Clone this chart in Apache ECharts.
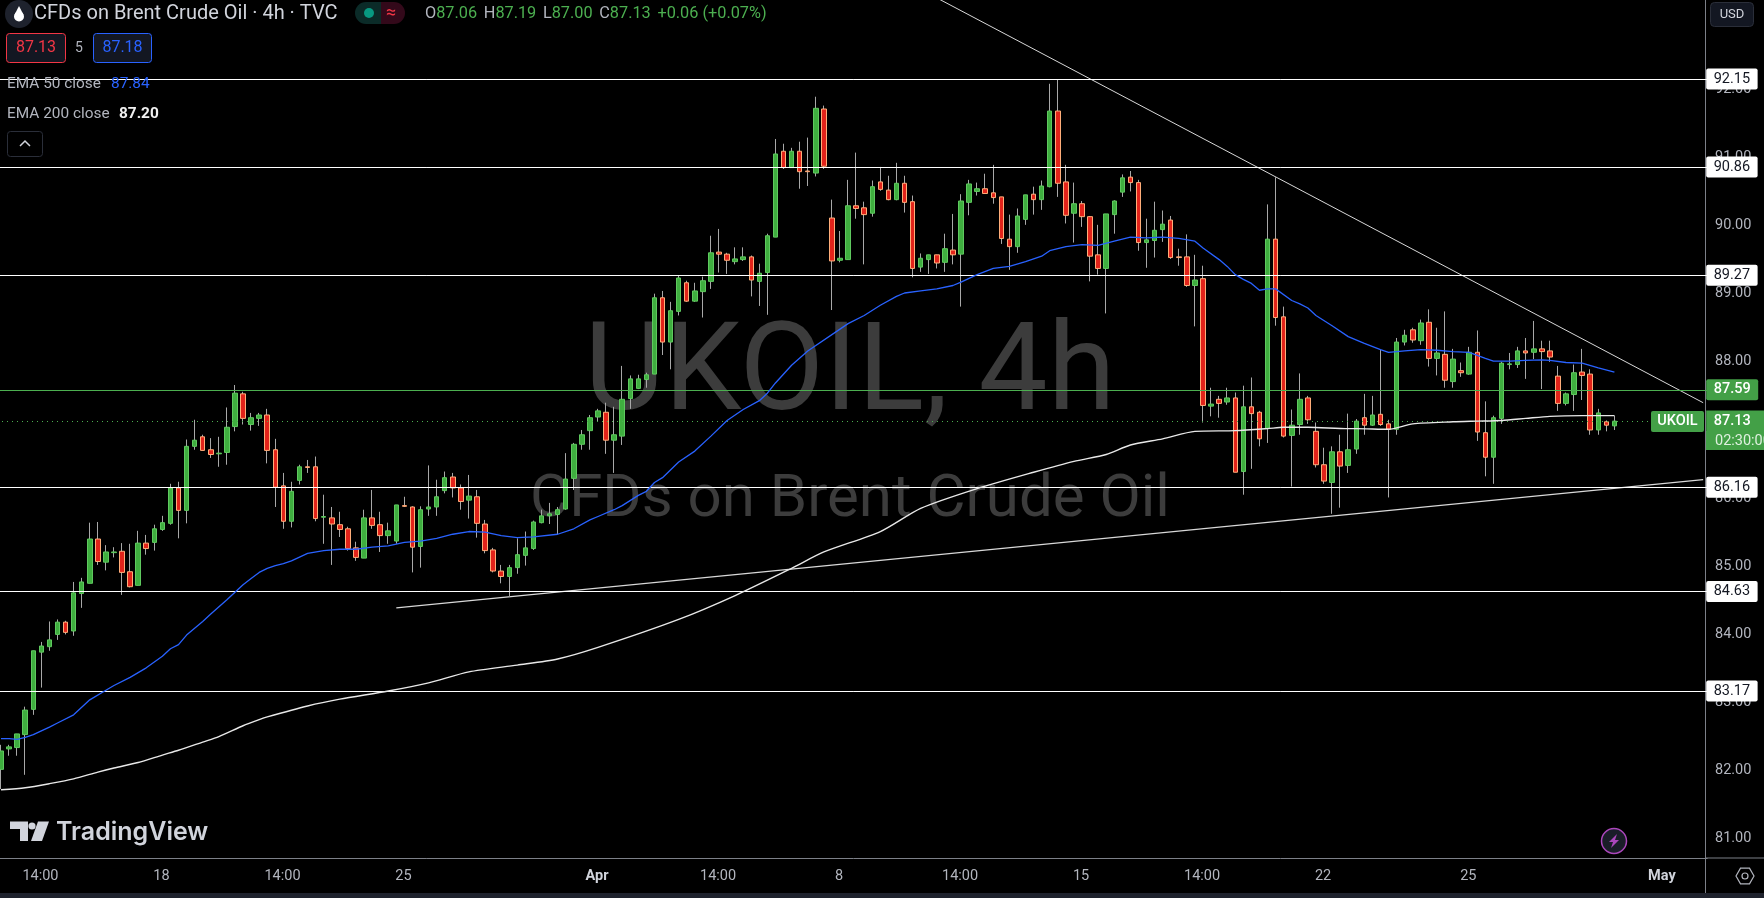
<!DOCTYPE html>
<html><head><meta charset="utf-8">
<style>html,body{margin:0;padding:0;background:#000;overflow:hidden}#c{width:1764px;height:898px}</style>
<script src="https://cdn.jsdelivr.net/npm/echarts@6/dist/echarts.min.js"></script>
</head><body><div id="c"></div>
<script>
const opens=[82.02,82.32,82.34,82.53,82.90,83.74,83.82,84.00,84.18,84.05,84.60,84.75,85.40,85.06,85.20,85.22,84.92,84.72,85.34,85.35,85.54,85.63,86.15,85.82,86.76,86.90,86.71,86.65,86.67,87.05,87.53,87.08,87.17,87.22,
86.71,86.18,85.66,86.26,86.46,86.46,85.72,85.71,85.61,85.55,85.27,85.12,85.71,85.61,85.45,85.37,85.89,85.87,85.29,85.84,85.87,86.11,86.31,86.15,85.97,86.02,85.62,85.24,84.93,84.85,84.98,85.16,85.26,
85.64,85.74,85.76,85.84,86.29,86.79,86.99,87.19,87.26,86.85,86.91,87.46,87.61,87.74,87.82,88.94,88.29,88.74,89.16,88.89,89.03,89.18,89.61,89.58,89.47,89.50,89.54,89.18,89.31,89.83,91.09,90.85,91.09,90.80,
90.77,91.71,90.11,89.49,89.50,90.29,90.26,90.18,90.64,90.52,90.38,90.62,90.35,89.39,89.50,89.57,89.46,89.64,89.58,90.34,90.50,90.54,90.48,90.42,89.80,89.69,90.09,90.46,90.38,90.57,91.68,90.64,90.18,
90.32,90.13,89.57,89.37,90.16,90.49,90.71,90.63,89.75,89.78,89.94,90.08,89.54,89.54,89.12,89.22,87.35,87.45,87.41,87.47,86.39,87.34,87.26,87.02,89.80,88.66,86.92,87.08,87.47,86.98,86.49,86.23,86.68,86.48,
86.72,87.18,87.07,87.23,87.09,87.01,88.29,88.47,88.31,88.58,88.05,88.11,87.71,87.87,87.82,88.14,86.96,86.60,87.17,87.96,87.96,88.16,88.14,88.19,88.16,87.79,87.39,87.52,87.85,87.82,87.00,87.12,87.06];
const closes=[82.29,82.35,82.54,82.89,83.76,83.83,83.92,84.18,84.03,84.61,84.77,85.40,85.07,85.21,85.21,84.91,84.70,85.34,85.26,85.55,85.64,86.15,85.82,86.76,86.85,86.70,86.64,86.66,87.04,87.54,87.17,87.18,87.22,86.70,
86.16,85.66,86.10,86.46,86.45,85.70,85.73,85.62,85.54,85.26,85.13,85.71,85.60,85.45,85.52,85.90,85.88,85.28,85.83,85.87,86.02,86.30,86.15,85.95,86.03,85.63,85.23,84.93,84.85,84.98,85.17,85.27,85.65,
85.74,85.77,85.83,86.28,86.79,86.93,87.18,87.28,86.85,86.93,87.45,87.75,87.75,87.81,88.94,88.29,88.75,89.23,88.89,89.04,89.19,89.60,89.58,89.49,89.51,89.54,89.20,89.30,89.85,91.05,90.85,91.09,90.79,90.79,
91.72,90.87,89.48,89.52,90.29,90.25,90.16,90.57,90.53,90.38,90.62,90.34,89.37,89.52,89.57,89.45,89.66,89.57,90.36,90.61,90.54,90.47,90.41,89.81,89.69,90.14,90.45,90.38,90.58,91.68,90.62,90.15,90.32,
90.13,89.55,89.37,90.17,90.36,90.70,90.63,89.75,89.79,89.93,90.02,89.53,89.53,89.12,89.20,87.36,87.38,87.39,87.47,86.38,87.34,87.24,86.87,89.80,88.65,86.91,87.07,87.45,87.15,86.49,86.25,86.68,86.47,86.71,
87.13,87.07,87.22,87.08,87.01,88.29,88.39,88.32,88.57,88.05,88.13,87.73,88.04,87.84,88.14,86.97,86.60,87.18,87.98,87.97,88.16,88.13,88.19,88.15,88.07,87.39,87.53,87.84,87.80,87.00,87.25,87.07,87.13];
const lows=[81.73,82.22,82.22,81.94,82.82,83.22,83.76,83.92,84.00,83.98,84.39,84.75,85.02,84.94,85.13,84.58,84.69,84.72,85.17,85.23,85.52,85.61,85.41,85.63,86.71,86.70,86.59,86.46,86.49,86.98,87.08,86.99,87.06,86.51,
85.87,85.55,85.57,86.20,86.37,85.66,85.33,85.02,85.43,85.23,85.08,85.12,85.55,85.21,85.33,85.33,85.87,84.91,84.98,85.74,85.74,86.07,86.01,85.83,85.70,85.42,85.19,84.91,84.75,84.55,84.89,85.01,85.24,
85.63,85.62,85.47,85.83,86.12,86.71,86.71,87.12,86.65,86.37,86.78,87.31,87.60,87.62,87.82,88.10,87.89,88.68,88.88,88.88,88.65,89.07,89.31,89.29,89.43,89.48,88.96,88.82,88.69,89.83,90.83,90.85,90.54,90.58,
90.72,90.83,88.76,89.46,89.50,90.10,89.43,90.13,90.51,90.37,90.37,90.19,89.24,89.32,89.29,89.37,89.32,89.43,88.81,90.15,90.44,90.47,90.32,89.73,89.35,89.60,90.01,90.16,90.23,90.56,90.42,90.03,89.75,
89.98,89.18,89.28,88.71,89.88,90.42,90.50,89.63,89.38,89.53,89.76,89.51,89.41,89.10,88.52,87.11,87.20,87.18,87.37,86.38,86.05,86.43,86.76,86.81,88.53,86.89,86.17,86.93,87.09,86.45,86.21,85.77,85.86,86.37,
86.65,86.93,87.06,87.06,86.01,86.93,88.24,88.28,88.25,87.93,87.80,87.62,87.62,87.78,87.81,86.84,86.32,86.21,87.09,87.89,87.91,87.75,88.04,87.60,88.00,87.28,87.36,87.28,87.44,86.93,86.93,86.98,87.00];
const highs=[82.38,82.38,82.54,82.94,83.76,83.89,84.19,84.22,84.20,84.77,84.83,85.64,85.65,85.31,85.28,85.34,85.33,85.52,85.46,85.61,85.74,86.21,86.24,86.86,87.15,86.93,86.88,86.90,87.33,87.66,87.56,87.25,87.25,87.31,
86.87,86.37,86.24,86.49,86.56,86.61,86.05,85.87,85.80,85.58,85.36,85.83,86.12,85.80,85.64,85.90,86.02,85.88,85.88,86.48,86.27,86.39,86.37,86.20,86.34,86.12,85.68,85.27,85.02,85.02,85.41,85.51,85.67,
85.83,85.93,85.87,86.66,86.81,87.00,87.22,87.31,87.40,87.34,87.94,87.80,87.81,87.84,89.00,89.04,88.88,89.27,89.19,89.16,89.25,89.85,89.95,89.60,89.68,89.68,89.56,89.44,89.88,91.27,91.20,91.14,91.23,91.29,
91.89,91.76,90.38,89.92,90.67,91.07,90.35,90.66,90.86,90.73,90.92,90.73,90.44,89.59,89.57,89.57,89.88,90.17,90.46,90.67,90.63,90.76,90.89,90.42,90.16,90.25,90.45,90.57,90.66,92.08,92.14,90.89,90.63,
90.36,90.14,90.01,90.17,90.37,90.75,90.80,90.67,90.10,90.35,90.22,90.14,89.66,89.87,89.57,89.41,87.62,87.50,87.62,87.55,87.65,87.77,87.28,90.31,90.71,88.81,87.30,87.83,87.50,87.11,86.74,86.76,86.93,87.24,
87.16,87.53,87.50,88.18,87.15,88.35,88.47,88.50,88.62,88.77,88.50,88.74,88.19,87.99,88.22,88.46,87.42,87.21,88.00,88.13,88.22,88.35,88.60,88.31,88.31,87.94,87.55,87.96,88.19,87.89,87.31,87.14,87.21];

const ema50=[[0,82.47],[1,82.47],[2,82.46],[3,82.49],[4,82.53],[6,82.64],[7,82.70],[9,82.82],[11,83.04],[13,83.18],[14,83.25],[16,83.37],[18,83.51],[20,83.68],[21,83.79],[22,83.85],[23,83.99],[25,84.19],[26,84.30],[28,84.51],[30,84.73],[31,84.82],[32,84.91],[33,84.97],[34,85.01],[35,85.04],[36,85.08],[38,85.19],[40,85.23],[42,85.25],[44,85.25],[46,85.28],[48,85.30],[50,85.35],[52,85.37],[54,85.41],[56,85.47],[58,85.51],[60,85.50],[62,85.45],[64,85.42],[66,85.43],[69,85.47],[71,85.55],[73,85.68],[74,85.73],[76,85.83],[77,85.89],[79,86.04],[80,86.10],[81,86.23],[82,86.30],[84,86.53],[86,86.69],[88,86.91],[90,87.14],[92,87.30],[94,87.43],[95,87.54],[96,87.69],[98,87.95],[100,88.16],[104,88.48],[105,88.56],[107,88.68],[109,88.83],[111,88.96],[112,89.01],[114,89.04],[116,89.07],[118,89.12],[119,89.17],[121,89.28],[123,89.37],[125,89.40],[127,89.47],[129,89.55],[130,89.63],[132,89.69],[134,89.72],[136,89.71],[138,89.77],[140,89.83],[142,89.82],[144,89.83],[146,89.81],[148,89.77],[149,89.67],[151,89.50],[152,89.40],[153,89.28],[154,89.21],[155,89.15],[156,89.05],[157,89.07],[158,89.07],[160,88.90],[161,88.85],[162,88.79],[163,88.68],[165,88.53],[167,88.37],[169,88.27],[171,88.18],[172,88.14],[174,88.16],[176,88.18],[178,88.17],[180,88.15],[182,88.14],[184,88.05],[185,88.01],[187,88.01],[189,88.02],[191,88.03],[192,88.02],[194,87.99],[196,87.98],[198,87.91],[200,87.85]];
const ema200=[[0,81.72],[3,81.75],[6,81.81],[9,81.88],[12,81.98],[14,82.04],[17,82.12],[20,82.23],[22,82.30],[25,82.42],[27,82.50],[30,82.66],[32,82.75],[33,82.79],[38,82.95],[42,83.05],[48,83.17],[53,83.29],[58,83.45],[64,83.55],[69,83.64],[74,83.81],[84,84.22],[91,84.57],[98,84.97],[102,85.21],[109,85.51],[114,85.85],[121,86.14],[128,86.38],[133,86.54],[137,86.64],[140,86.78],[144,86.87],[148,86.98],[153,86.99],[157,87.02],[159,87.04],[162,87.04],[167,87.02],[168,87.02],[172,87.01],[175,87.09],[180,87.12],[183,87.13],[186,87.14],[189,87.17],[192,87.20],[196,87.21],[200,87.21]];
const trendDown=[[116,93.34],[211,87.40]];
const trendUp=[[49,84.39],[211,86.27]];
const whiteLevels=[92.15,90.86,89.27,86.16,84.63,83.17];
const greenLevel=87.59;
const lastPrice=87.13;
const slotCount=212;
const tickSlots=[5,20,35,50,74,89,104,119,134,149,164,182,206];
const tickLabels=['14:00','18','14:00','25','Apr','14:00','8','14:00','15','14:00','22','25','May'];
const boldTicks=['Apr','May'];

const categories=Array.from({length:slotCount},(_,i)=>{const k=tickSlots.indexOf(i);return k<0?'':tickLabels[k];});
const wickData=opens.map((o,i)=>[o,closes[i],lows[i],highs[i]]);
const bodyData=opens.map((o,i)=>{const t=Math.max(o,closes[i]),b=Math.min(o,closes[i]);return [o,closes[i],b,t];});

const FONT='Roboto, sans-serif';
const GREY='#b2b5be', LINE='#7d8088';
const chart=echarts.init(document.getElementById('c'),null,{renderer:'canvas',width:1764,height:898});

function txt(text,x,y,size,fill,extra){return Object.assign({type:'text',z:90,style:Object.assign({text,x,y,fill,font:size+'px '+FONT,verticalAlign:'middle',align:'left'},extra||{})});}
function box(x,y,w,h,fill,stroke,r){return {type:'rect',z:89,shape:{x,y,width:w,height:h,r:r||3},style:{fill,stroke:stroke||null,lineWidth:1}};}

const graphic=[
 {type:'text',z:0,style:{text:'UKOIL, 4h',x:850,y:440,fill:'#3c3c3c',font:'123px '+FONT,align:'center',verticalAlign:'bottom'}},
 {type:'text',z:0,style:{text:'CFDs on Brent Crude Oil',x:850,y:531,fill:'#3c3c3c',font:'60px '+FONT,align:'center',verticalAlign:'bottom'}},
 {type:'line',z:5,shape:{x1:1705,y1:858,x2:1764,y2:858},style:{stroke:LINE,lineWidth:1}},
 {type:'rect',z:5,shape:{x:0,y:893,width:1764,height:5},style:{fill:'#1e222d'}},
 {type:'circle',z:89,shape:{cx:19,cy:14,r:14},style:{fill:'#1e222d'}},
 {type:'polygon',z:90,shape:{points:[[19,6],[14.6,14.5],[23.4,14.5]]},style:{fill:'#fff'}},
 {type:'circle',z:90,shape:{cx:19,cy:16.5,r:5},style:{fill:'#fff'}},
 txt('CFDs on Brent Crude Oil · 4h · TVC',34,14,20,'#d1d4dc'),
 {type:'rect',z:89,shape:{x:355,y:2,width:26,height:22,r:[11,0,0,11]},style:{fill:'#0b2b28'}},
 {type:'rect',z:89,shape:{x:381,y:2,width:24,height:22,r:[0,11,11,0]},style:{fill:'#33091a'}},
 {type:'circle',z:90,shape:{cx:369,cy:13,r:5},style:{fill:'#089981'}},
 txt('≈',386,13,18,'#f23645'),
 {type:'text',z:90,style:{x:425,y:14,verticalAlign:'middle',align:'left',
   text:'{g|O}{v|87.06}  {g|H}{v|87.19}  {g|L}{v|87.00}  {g|C}{v|87.13}  {v|+0.06 (+0.07%)}',
   rich:{g:{fill:GREY,font:'16.3px '+FONT},v:{fill:'#4caf50',font:'16.3px '+FONT}}}},
 box(6.5,33.5,59,29,'#131722','#f23645'),
 txt('87.13',36,48,16,'#f23645',{align:'center'}),
 txt('5',79,48,14,GREY,{align:'center'}),
 box(93.5,33.5,58,29,'#131722','#2962ff'),
 txt('87.18',122.5,48,16,'#2962ff',{align:'center'}),
 txt('EMA 50 close',7,84,15.4,GREY),
 txt('87.84',111,84,15.4,'#2962ff'),
 txt('EMA 200 close',7,114,15.4,GREY),
 txt('87.20',119,114,15.4,'#f0f0f0',{font:'bold 15.4px '+FONT}),
 box(7.5,131.5,35,25,'#000','#2a2e39'),
 {type:'polyline',z:90,shape:{points:[[20,146],[25,141],[30,146]]},style:{stroke:'#d1d4dc',lineWidth:1.5,fill:null}},
 {type:'polygon',z:90,shape:{points:[[10,821.5],[28,821.5],[28,841],[20,841],[20,829],[10,829]]},style:{fill:'#d1d4dc'}},
 {type:'circle',z:90,shape:{cx:32,cy:826,r:3.6},style:{fill:'#d1d4dc'}},
 {type:'polygon',z:90,shape:{points:[[38,821.5],[49,821.5],[42,841],[31,841]]},style:{fill:'#d1d4dc'}},
 txt('TradingView',56,832,25,'#d1d4dc',{font:'600 25px Inter, '+FONT}),
 {type:'circle',z:89,shape:{cx:1614,cy:841,r:12.5},style:{fill:'#1a1d28',stroke:'#ab47bc',lineWidth:1.5}},
 {type:'polygon',z:90,shape:{points:[[1617,834],[1609,842],[1613,842],[1611,848],[1619,840],[1615,840]]},style:{fill:'#ab47bc'}},
 {type:'polygon',z:90,shape:{points:[[1736,876],[1740.5,868.2],[1749.5,868.2],[1754,876],[1749.5,883.8],[1740.5,883.8]]},style:{fill:null,stroke:GREY,lineWidth:1.2}},
 {type:'circle',z:90,shape:{cx:1745,cy:876,r:3},style:{fill:null,stroke:GREY,lineWidth:1.2}},
 box(1710.5,2.5,43,24,'#131722','#2a2e39',4),
 txt('USD',1732,15,13,'#d1d4dc',{align:'center'}),
 {type:'rect',z:95,shape:{x:1651,y:411,width:53,height:21,r:2},style:{fill:'#43a047'}},
 {type:'text',z:96,style:{text:'UKOIL',x:1677.5,y:421.5,fill:'#fff',font:'500 14.5px '+FONT,verticalAlign:'middle',align:'center'}},
 {type:'rect',z:95,shape:{x:1706,y:431,width:58,height:19},style:{fill:'#43a047'}},
 {type:'text',z:96,style:{text:'02:30:00',x:1715,y:441,fill:'#dff0df',font:'14.5px '+FONT,verticalAlign:'middle',align:'left'}}
];

const levelLines=whiteLevels.map(v=>({yAxis:v,lineStyle:{color:'#ffffff',width:1,type:'solid'},
  label:{show:true,position:'end',distance:-1,formatter:v.toFixed(2),color:'#131722',backgroundColor:'#ffffff',padding:[3,7.5],borderRadius:2,fontSize:14.5,fontFamily:FONT,lineHeight:15}}));
const greenLines=[{yAxis:greenLevel,lineStyle:{color:'#4caf50',width:1.2,type:'solid',opacity:1},
  label:{show:true,position:'end',distance:-1,formatter:greenLevel.toFixed(2),color:'#fff',backgroundColor:'#43a047',padding:[3,7.5],borderRadius:2,fontSize:14.5,fontWeight:500,fontFamily:FONT,lineHeight:15}},
 {yAxis:lastPrice,lineStyle:{color:'#4caf50',width:1,type:[1,4]},
  label:{show:true,position:'end',distance:-1,formatter:lastPrice.toFixed(2),color:'#fff',backgroundColor:'#43a047',padding:[3,16,3,7.5],fontSize:14.5,fontWeight:500,fontFamily:FONT,lineHeight:15}}];

// price axis spans 80-94 so its ticks land on whole numbers; the grid runs past the page edges on purpose
const pxPerUnit=68.15, anchorY=79;
chart.setOption({
 animation:false,backgroundColor:'#000',
 textStyle:{fontFamily:FONT},
 grid:{left:-3,top:anchorY-(94-92.15)*pxPerUnit,width:1710.2,height:14*pxPerUnit,containLabel:false,outerBoundsMode:'none'},
 xAxis:{type:'category',data:categories,boundaryGap:true,position:'bottom',offset:-(anchorY+(92.15-80)*pxPerUnit-858),
   axisLine:{show:true,onZero:false,lineStyle:{color:LINE,width:1}},axisTick:{show:false},splitLine:{show:false},
   axisLabel:{show:true,interval:0,margin:11,color:GREY,fontSize:14.5,fontFamily:FONT,padding:[0,1.8,0,0],
     formatter:v=>boldTicks.includes(v)?'{b|'+v+'}':v,
     rich:{b:{fontWeight:'bold',color:'#d1d4dc',fontSize:14.5,fontFamily:FONT}}}},
 yAxis:{type:'value',position:'right',offset:-2.2,min:80,max:94,interval:1,
   axisLine:{show:true,onZero:false,lineStyle:{color:LINE,width:1}},axisTick:{show:false},splitLine:{show:false},
   axisLabel:{show:true,margin:10,color:GREY,fontSize:14.5,fontFamily:FONT,
     formatter:v=>(v>80&&v<93)?v.toFixed(2):''}},
 graphic:graphic,
 series:[
  {type:'line',name:'levels',data:[],z:1,silent:true,
   markLine:{silent:true,symbol:'none',animation:false,precision:2,data:levelLines}},
  {type:'line',name:'green levels',data:[],z:1,silent:true,
   markLine:{silent:true,symbol:'none',animation:false,precision:2,lineStyle:{color:'#4caf50'},data:greenLines}},
  {type:'line',name:'trend down',data:trendDown,z:2,showSymbol:false,silent:true,lineStyle:{color:'#d8d8d8',width:1}},
  {type:'line',name:'trend up',data:trendUp,z:2,showSymbol:false,silent:true,lineStyle:{color:'#d8d8d8',width:1.2}},
  {type:'candlestick',name:'wicks',data:wickData,z:3,barWidth:1,silent:true,
   itemStyle:{color:'#a8a8a8',color0:'#a8a8a8',borderColor:'#a8a8a8',borderColor0:'#a8a8a8',borderWidth:1}},
  {type:'candlestick',name:'UKOIL',data:bodyData,z:4,barWidth:5,silent:true,
   itemStyle:{color:'#3fae3f',color0:'#e2231a',borderColor:'#5fc95f',borderColor0:'#ffae7a',borderWidth:1}},
  {type:'line',name:'EMA 200',data:ema200,z:5,showSymbol:false,silent:true,smooth:0.25,lineStyle:{color:'#e8e8e8',width:1.4}},
  {type:'line',name:'EMA 50',data:ema50,z:5,showSymbol:false,silent:true,lineStyle:{color:'#2962ff',width:1.3}}
 ]
});
</script></body></html>
